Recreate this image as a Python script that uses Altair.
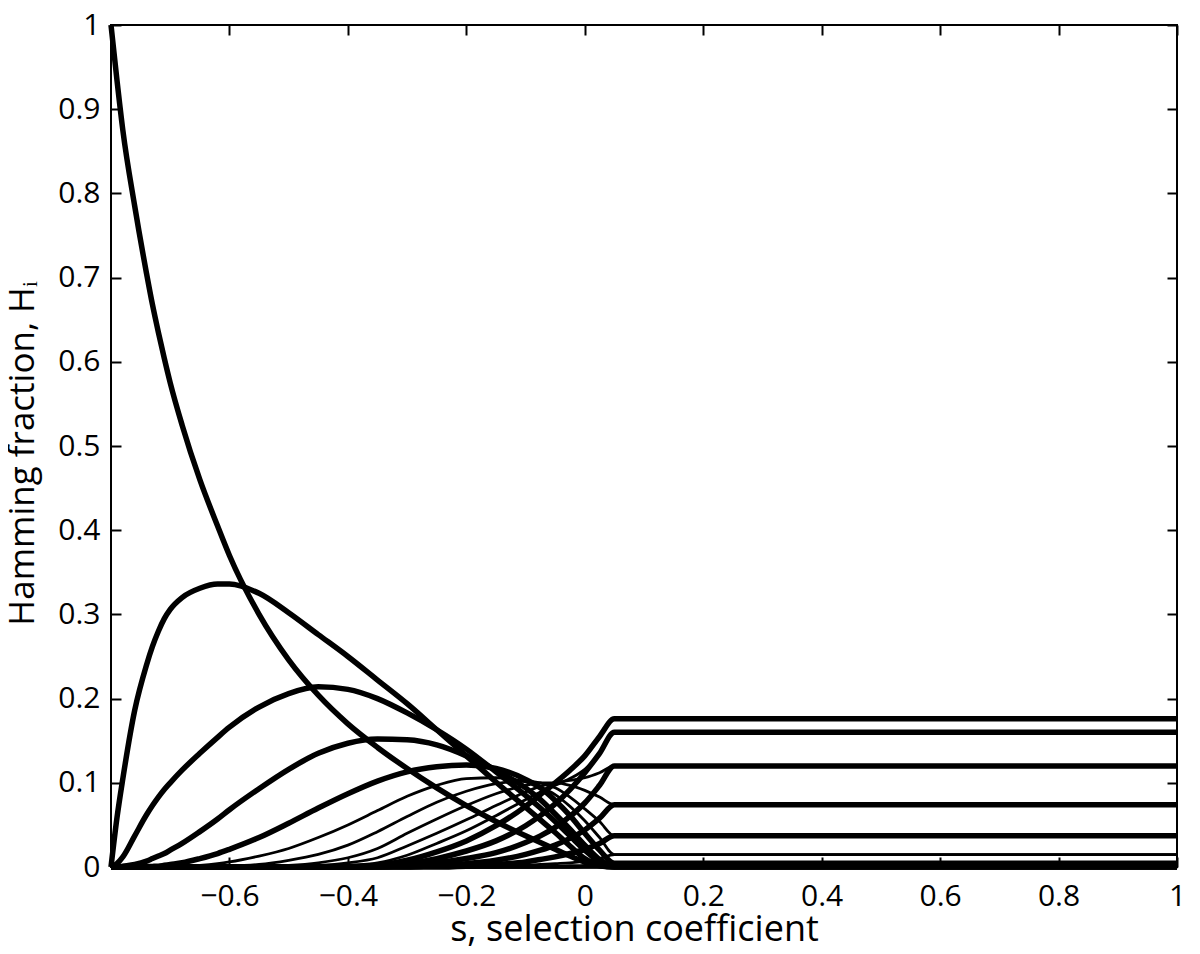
import altair as alt
import pandas as pd

# s grid (selection coefficient) at which the curves were read
S = [-0.8, -0.79, -0.78, -0.76, -0.74, -0.73, -0.72, -0.71, -0.7, -0.68,
     -0.65, -0.62, -0.6, -0.55, -0.5, -0.45, -0.4, -0.35, -0.3, -0.25,
     -0.2, -0.15, -0.1, -0.075, -0.05, -0.025, 0.0, 0.025, 0.05, 1.0]

h0 = [1.0, 0.935, 0.875, 0.785, 0.705, 0.668, 0.635, 0.604, 0.575, 0.525,
      0.46, 0.405, 0.37, 0.3, 0.246, 0.204, 0.17, 0.142, 0.117, 0.094,
      0.073, 0.054, 0.037, 0.029, 0.021, 0.013, 0.006, 0.0015, 0.0, 0.0]
h1 = [0.0, 0.058, 0.105, 0.186, 0.24, 0.262, 0.28, 0.295, 0.306, 0.32,
      0.331, 0.336, 0.336, 0.325, 0.302, 0.276, 0.25, 0.222, 0.194, 0.163,
      0.132, 0.101, 0.071, 0.056, 0.041, 0.025, 0.01, 0.002, 0.0, 0.0]
h2 = [0.0, 0.004, 0.012, 0.037, 0.062, 0.073, 0.083, 0.092, 0.1, 0.115,
      0.135, 0.154, 0.166, 0.19, 0.206, 0.214, 0.211, 0.2, 0.183, 0.163,
      0.14, 0.113, 0.085, 0.07, 0.054, 0.037, 0.02, 0.006, 0.0002, 0.0002]
h3 = [0.0, 0.0, 0.001, 0.003, 0.007, 0.01, 0.013, 0.016, 0.02, 0.028,
      0.042, 0.057, 0.068, 0.093, 0.116, 0.135, 0.147, 0.152, 0.151, 0.145,
      0.132, 0.115, 0.094, 0.08, 0.063, 0.045, 0.026, 0.009, 0.0011, 0.0011]
h4 = [0.0, 0.0, 0.0, 0.0, 0.0005, 0.0007, 0.001, 0.002, 0.003, 0.005,
      0.01, 0.016, 0.021, 0.035, 0.052, 0.07, 0.087, 0.102, 0.113, 0.119,
      0.121, 0.117, 0.104, 0.094, 0.079, 0.061, 0.04, 0.02, 0.0046, 0.0046]
h5 = [0.0, 0.0, 0.0, 0.0, 0.0, 0.0, 0.0, 0.0, 0.0005, 0.001,
      0.002, 0.004, 0.006, 0.013, 0.022, 0.035, 0.05, 0.067, 0.084, 0.097,
      0.105, 0.106, 0.101, 0.095, 0.086, 0.072, 0.055, 0.035, 0.0148, 0.0148]
h6 = [0.0, 0.0, 0.0, 0.0, 0.0, 0.0, 0.0, 0.0, 0.0, 0.0,
      0.0003, 0.0007, 0.001, 0.003, 0.008, 0.015, 0.026, 0.042, 0.06, 0.077,
      0.09, 0.099, 0.102, 0.1, 0.094, 0.083, 0.069, 0.054, 0.037, 0.037]
h7 = [0.0, 0.0, 0.0, 0.0, 0.0, 0.0, 0.0, 0.0, 0.0, 0.0,
      0.0, 0.0001, 0.0003, 0.001, 0.002, 0.005, 0.011, 0.022, 0.04, 0.057,
      0.073, 0.087, 0.097, 0.1, 0.1, 0.097, 0.091, 0.083, 0.074, 0.074]
h8 = [0.0, 0.0, 0.0, 0.0, 0.0, 0.0, 0.0, 0.0, 0.0, 0.0,
      0.0, 0.0, 0.0, 0.0003, 0.001, 0.002, 0.005, 0.011, 0.025, 0.04,
      0.056, 0.073, 0.089, 0.096, 0.1, 0.103, 0.106, 0.112, 0.12, 0.12]
h9 = [0.0, 0.0, 0.0, 0.0, 0.0, 0.0, 0.0, 0.0, 0.0, 0.0,
      0.0, 0.0, 0.0, 0.0, 0.0003, 0.001, 0.002, 0.005, 0.014, 0.028,
      0.043, 0.061, 0.08, 0.089, 0.097, 0.105, 0.116, 0.135, 0.16, 0.16]
h10 = [0.0, 0.0, 0.0, 0.0, 0.0, 0.0, 0.0, 0.0, 0.0, 0.0,
       0.0, 0.0, 0.0, 0.0, 0.0, 0.0, 0.0005, 0.002, 0.008, 0.018,
       0.031, 0.049, 0.072, 0.086, 0.1, 0.115, 0.132, 0.155, 0.176, 0.176]
h11 = [0.0, 0.0, 0.0, 0.0, 0.0, 0.0, 0.0, 0.0, 0.0, 0.0,
       0.0, 0.0, 0.0, 0.0, 0.0, 0.0, 0.0, 0.001, 0.004, 0.01,
       0.019, 0.031, 0.049, 0.061, 0.075, 0.092, 0.112, 0.135, 0.16, 0.16]
h12 = [0.0, 0.0, 0.0, 0.0, 0.0, 0.0, 0.0, 0.0, 0.0, 0.0,
       0.0, 0.0, 0.0, 0.0, 0.0, 0.0, 0.0, 0.0, 0.002, 0.005,
       0.01, 0.017, 0.029, 0.037, 0.047, 0.06, 0.076, 0.097, 0.12, 0.12]
h13 = [0.0, 0.0, 0.0, 0.0, 0.0, 0.0, 0.0, 0.0, 0.0, 0.0,
       0.0, 0.0, 0.0, 0.0, 0.0, 0.0, 0.0, 0.0, 0.0, 0.002,
       0.004, 0.008, 0.015, 0.02, 0.026, 0.034, 0.044, 0.058, 0.074, 0.074]
h14 = [0.0, 0.0, 0.0, 0.0, 0.0, 0.0, 0.0, 0.0, 0.0, 0.0,
       0.0, 0.0, 0.0, 0.0, 0.0, 0.0, 0.0, 0.0, 0.0, 0.0,
       0.001, 0.003, 0.006, 0.009, 0.012, 0.016, 0.021, 0.028, 0.037, 0.037]
h15 = [0.0, 0.0, 0.0, 0.0, 0.0, 0.0, 0.0, 0.0, 0.0, 0.0,
       0.0, 0.0, 0.0, 0.0, 0.0, 0.0, 0.0, 0.0, 0.0, 0.0,
       0.0, 0.0, 0.002, 0.003, 0.004, 0.005, 0.007, 0.01, 0.0148, 0.0148]
h16 = [0.0, 0.0, 0.0, 0.0, 0.0, 0.0, 0.0, 0.0, 0.0, 0.0,
       0.0, 0.0, 0.0, 0.0, 0.0, 0.0, 0.0, 0.0, 0.0, 0.0,
       0.0, 0.0, 0.0, 0.0, 0.001, 0.0015, 0.002, 0.003, 0.0046, 0.0046]
h17 = [0.0, 0.0, 0.0, 0.0, 0.0, 0.0, 0.0, 0.0, 0.0, 0.0,
       0.0, 0.0, 0.0, 0.0, 0.0, 0.0, 0.0, 0.0, 0.0, 0.0,
       0.0, 0.0, 0.0, 0.0, 0.0, 0.0, 0.0005, 0.0008, 0.0011, 0.0011]
h18 = [0.0, 0.0, 0.0, 0.0, 0.0, 0.0, 0.0, 0.0, 0.0, 0.0,
       0.0, 0.0, 0.0, 0.0, 0.0, 0.0, 0.0, 0.0, 0.0, 0.0,
       0.0, 0.0, 0.0, 0.0, 0.0, 0.0, 0.0, 0.0, 0.0002, 0.0002]
h19 = [0.0, 0.0, 0.0, 0.0, 0.0, 0.0, 0.0, 0.0, 0.0, 0.0,
       0.0, 0.0, 0.0, 0.0, 0.0, 0.0, 0.0, 0.0, 0.0, 0.0,
       0.0, 0.0, 0.0, 0.0, 0.0, 0.0, 0.0, 0.0, 0.0, 0.0]
h20 = [0.0, 0.0, 0.0, 0.0, 0.0, 0.0, 0.0, 0.0, 0.0, 0.0,
       0.0, 0.0, 0.0, 0.0, 0.0, 0.0, 0.0, 0.0, 0.0, 0.0,
       0.0, 0.0, 0.0, 0.0, 0.0, 0.0, 0.0, 0.0, 0.0, 0.0]

CURVES = [h0, h1, h2, h3, h4, h5, h6, h7, h8, h9, h10, h11, h12, h13, h14, h15,
          h16, h17, h18, h19, h20]
THIN = [5, 6, 7, 8, 9, 15, 16, 17, 18, 19, 20]   # curves drawn with the thin pen
X_TICKS = [-0.6, -0.4, -0.2, 0, 0.2, 0.4, 0.6, 0.8, 1.0]
Y_TICKS = [0, 0.1, 0.2, 0.3, 0.4, 0.5, 0.6, 0.7, 0.8, 0.9, 1.0]

rows = []
for i, h in enumerate(CURVES):
    assert len(h) == len(S), i
    w = 2.8 if i in THIN else 5.5
    for s, v in zip(S, h):
        rows.append({"s": s, "H": v, "i": i, "w": w})
df = pd.DataFrame(rows)

FONT = "Open Sans"
xs = alt.Scale(domain=[-0.8, 1.0], nice=False, zero=False)
ys = alt.Scale(domain=[0, 1], nice=False)

lines = alt.Chart(df).mark_line(color="black", interpolate="monotone", clip=False).encode(
    x=alt.X("s:Q", scale=xs, axis=alt.Axis(
        orient="bottom", values=X_TICKS, format=".1~f", offset=-10, tickSize=10,
        domain=False, grid=False, labelPadding=14, labelFlush=False, labelOverlap=False,
        title="s, selection coefficient", titlePadding=1, titleFontSize=36,
        titleX=523)),
    y=alt.Y("H:Q", scale=ys, axis=alt.Axis(
        orient="left", values=Y_TICKS, format=".1~f", offset=-10, tickSize=10,
        domain=False, grid=False, labelPadding=11, labelFlush=False, labelOverlap=False,
        title="Hamming fraction, H\u1d62", titlePadding=17, titleFontSize=35,
        titleY=428)),
    detail="i:N",
    strokeWidth=alt.StrokeWidth("w:Q", scale=None),
    order="s:Q",
)

ghost = alt.Chart(df).mark_line(opacity=0).encode(
    x=alt.X("s:Q", scale=xs, axis=alt.Axis(
        orient="top", values=X_TICKS, offset=-10, tickSize=10, labels=False,
        domain=False, grid=False, title=None)),
    y=alt.Y("H:Q", scale=ys, axis=alt.Axis(
        orient="right", values=Y_TICKS, offset=-10, tickSize=10, labels=False,
        domain=False, grid=False, title=None)),
    detail="i:N",
)

chart = alt.layer(lines, ghost).resolve_axis(x="independent", y="independent").properties(
    width=1066, height=842,
    padding={"left": 103, "top": 17, "right": 10, "bottom": 79},
    autosize=alt.AutoSizeParams(type="none"),
).configure_view(stroke="black", strokeWidth=2).configure_axis(
    labelFont=FONT, labelFontSize=30, labelColor="black",
    titleFont=FONT, titleColor="black", titleFontWeight="normal",
    tickColor="black", tickWidth=2,
)

chart.save("out.html", embed_options={"renderer": "svg", "actions": False})
